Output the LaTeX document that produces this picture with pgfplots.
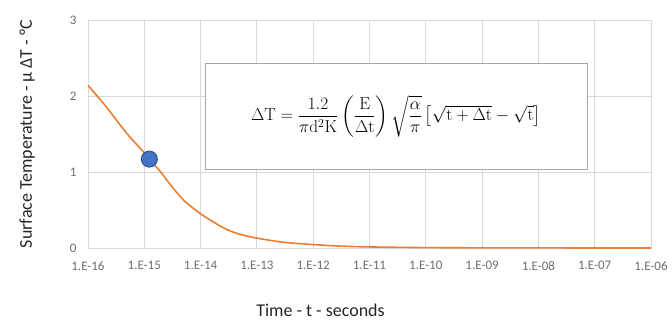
\documentclass[border=0pt]{standalone}
\usepackage{amsmath}
\usepackage[no-math]{fontspec}
\setmainfont{Carlito}
\usepackage{pgfplots}
\pgfplotsset{compat=1.18}
\definecolor{curveorange}{RGB}{237,125,49}
\definecolor{dotblue}{RGB}{68,114,196}
\definecolor{dotedge}{RGB}{47,82,143}
\definecolor{gridgray}{RGB}{217,217,217}
\definecolor{txtgray}{RGB}{110,110,110}
\definecolor{boxgray}{RGB}{166,166,166}

\begin{document}
\begin{tikzpicture}
% page size matches 672x320 reference; axis box lower-left sits at (0,0)
\useasboundingbox (-88pt,-72pt) rectangle (584pt,248pt);

\begin{axis}[
  anchor=south west,
  at={(0pt,0pt)},
  scale only axis,
  width=563pt,
  height=228pt,
  xmode=log,
  xmin=1e-16, xmax=1e-6,
  ymin=0, ymax=3,
  xtick={1e-16,1e-15,1e-14,1e-13,1e-12,1e-11,1e-10,1e-9,1e-8,1e-7,1e-6},
  xticklabels={1.E-16,1.E-15,1.E-14,1.E-13,1.E-12,1.E-11,1.E-10,1.E-09,1.E-08,1.E-07,1.E-06},
  ytick={0,1,2,3},
  minor xtick={},
  /pgf/number format/assume math mode=true,
  grid=major,
  grid style={gridgray, line width=0.8pt},
  axis line style={gridgray, line width=0.8pt},
  major tick length=0pt,
  minor tick length=0pt,
  tick label style={font=\fontsize{13}{15}\selectfont, text=txtgray},
  xticklabel style={yshift=-10pt},
  yticklabel style={xshift=-8pt},
  xlabel={Time - t - seconds},
  ylabel={Surface Temperature - µ ΔT - °C},
  label style={font=\fontsize{18}{21}\selectfont, text=black!85},
  xlabel style={at={(axis description cs:0.413,-0.272)}, anchor=center},
  ylabel style={at={(axis description cs:-0.108,0.5)}, anchor=center},
  clip=false,
]

\addplot[curveorange, line width=1.6pt, smooth] coordinates {
  (1e-16,2.14) (2e-16,1.88) (3e-16,1.71) (5e-16,1.50)
  (1e-15,1.25) (2e-15,0.99) (3e-15,0.82) (5e-15,0.63)
  (1e-14,0.45) (2e-14,0.31) (3e-14,0.24) (5e-14,0.18)
  (1e-13,0.13) (3e-13,0.075) (1e-12,0.045) (3e-12,0.025)
  (1e-11,0.014) (1e-10,0.005) (1e-9,0.002) (1e-8,0.001)
  (1e-7,0.0003) (1e-6,0.0001)
};

\addplot[only marks, mark=*, mark size=8pt,
  mark options={fill=dotblue, draw=dotedge, line width=1pt}]
  coordinates {(1.23e-15,1.17)};

\node[draw=boxgray, line width=0.8pt, fill=white,
  minimum width=382pt, minimum height=106pt, anchor=center]
  at (rel axis cs:0.547,0.579)
  {\fontsize{18}{21}\selectfont
   $\Delta\mathrm{T} = \dfrac{1.2}{\pi \mathrm{d}^2 \mathrm{K}}
   \left(\dfrac{\mathrm{E}}{\Delta\mathrm{t}}\right)
   \sqrt{\dfrac{\alpha}{\pi}}
   \left[\sqrt{\mathrm{t}+\Delta\mathrm{t}}-\sqrt{\mathrm{t}}\right]$};

\end{axis}
\end{tikzpicture}
\end{document}
